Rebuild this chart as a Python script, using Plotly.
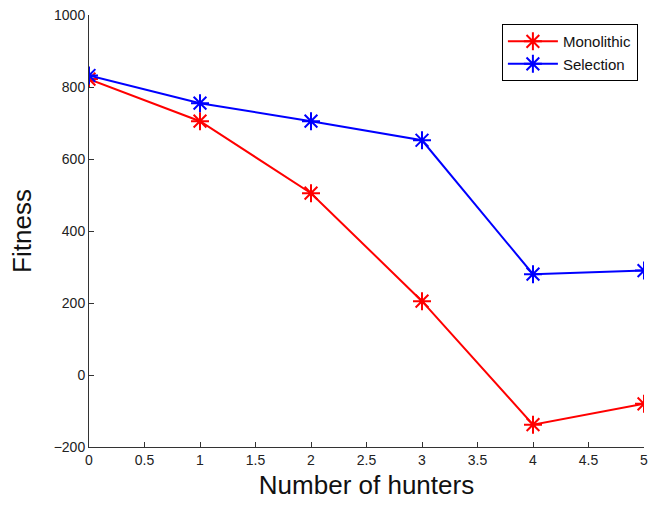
import plotly.graph_objects as go

hunters = [0, 1, 2, 3, 4, 5]
monolithic = [822, 705, 505, 205, -138, -80]
selection = [832, 755, 705, 652, 280, 290]

x_ticks = [0, 0.5, 1, 1.5, 2, 2.5, 3, 3.5, 4, 4.5, 5]
x_tick_text = ["0", "0.5", "1", "1.5", "2", "2.5", "3", "3.5", "4", "4.5", "5"]
y_ticks = [-200, 0, 200, 400, 600, 800, 1000]

fig = go.Figure()
fig.add_trace(go.Scatter(
    x=hunters, y=monolithic, mode="lines+markers", name="Monolithic",
    line=dict(color="#ff0000", width=2),
    marker=dict(symbol="asterisk-open", size=15, line=dict(color="#ff0000", width=2)),
))
fig.add_trace(go.Scatter(
    x=hunters, y=selection, mode="lines+markers", name="Selection",
    line=dict(color="#0000ff", width=2),
    marker=dict(symbol="asterisk-open", size=15, line=dict(color="#0000ff", width=2)),
))

axis_common = dict(
    showgrid=False, zeroline=False, showline=True, linecolor="#333333", linewidth=1,
    ticks="inside", ticklen=5, tickcolor="#333333",
    tickfont=dict(family="Liberation Sans, Arial, sans-serif", size=14, color="#222222"),
    mirror=False, automargin=False, ticklabeloverflow="allow",
)

fig.update_layout(
    width=649, height=506,
    margin=dict(l=89, r=5, t=15, b=59),
    paper_bgcolor="white", plot_bgcolor="white",
    font=dict(family="Liberation Sans, Arial, sans-serif", color="#111111"),
    xaxis=dict(range=[0, 5], tickvals=x_ticks, ticktext=x_tick_text,
               title=dict(text="Number of hunters", font=dict(size=26), standoff=9),
               **axis_common),
    yaxis=dict(range=[-200, 1000], tickvals=y_ticks,
               title=dict(text="Fitness", font=dict(size=26), standoff=14),
               **axis_common),
    legend=dict(x=0.989, y=0.979, xanchor="right", yanchor="top",
                bgcolor="white", bordercolor="black", borderwidth=1,
                font=dict(size=15, color="#111111"),
                itemwidth=50, tracegroupgap=0),
    showlegend=True,
)

fig.write_html("out.html", config={"displayModeBar": False},
               post_script="document.body.style.margin='0px';")
